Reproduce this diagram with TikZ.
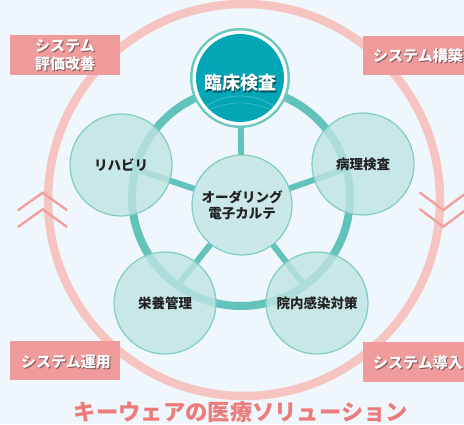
\documentclass[tikz,border=0pt]{standalone}
\usepackage{fontspec}
\setmainfont{Noto Sans CJK JP}
\usetikzlibrary{calc}
\definecolor{bgc}{HTML}{EFF7FD}
\definecolor{pinkring}{HTML}{F7C5C1}
\definecolor{chev}{HTML}{F2A09B}
\definecolor{lblbg}{HTML}{EF9B9B}
\definecolor{titlec}{HTML}{EE7B7B}
\definecolor{ringc}{HTML}{62C3BC}
\definecolor{nfill}{HTML}{BFE4E2}
\definecolor{cfill}{HTML}{C9E8E7}
\definecolor{ndraw}{HTML}{7ECDC7}
\definecolor{topfill}{HTML}{03A6B6}
\definecolor{topedge}{HTML}{6CC7C1}
\definecolor{txt}{HTML}{222222}
\tikzset{
  outernode/.style={circle, minimum size=102pt, inner sep=0pt, fill=nfill, fill opacity=0.8, draw=ndraw, line width=1.2pt, text opacity=1, text=txt, font=\fontsize{13.5}{16}\selectfont\bfseries, align=center},
  lblbox/.style={fill=lblbg, draw=none},
  lbltext/.style={text=white, font=\fontsize{15}{18}\selectfont\bfseries, align=center, inner sep=0pt},
  lblshadow/.style={text=black, text opacity=0.45, font=\fontsize{15}{18}\selectfont\bfseries, align=center, inner sep=0pt},
  chevline/.style={draw=chev, line width=2.4pt, line cap=round, line join=miter},
  spoke/.style={draw=ringc, line width=6pt},
}
\begin{document}
\begin{tikzpicture}[x=1pt,y=-1pt]
\fill[bgc] (0,0) rectangle (464,424);
\useasboundingbox (0,0) rectangle (464,424);
% outer pink circle
\coordinate (oc) at (244,200);
\draw[pinkring, line width=8.5pt] (oc) circle[radius=196pt];
% chevrons
\draw[chevline] (18.3,210) -- (42.7,192.7) -- (66.7,210);
\draw[chevline] (18.3,226.7) -- (42.7,209.3) -- (66.7,226.7);
\draw[chevline] (420,192.7) -- (443.3,210) -- (466.6,192.7);
\draw[chevline] (420,209.3) -- (443.3,226.7) -- (466.6,209.3);
% corner labels
\fill[lblbox] (10,35) rectangle (120,75);
\node[lblshadow] (l1s) at (66,56.2) {\fontsize{15}{18}\selectfont システム\\評価改善};
\node[lbltext] (l1) at (65,55) {\fontsize{15}{18}\selectfont システム\\評価改善};
\fill[lblbox] (363,36) rectangle (470,75);
\node[lblshadow, anchor=west] (l2s) at (374,57.2) {システム構築};
\node[lbltext, anchor=west] (l2) at (373,56) {システム構築};
\fill[lblbox] (10,341) rectangle (120,380);
\node[lblshadow] (l3s) at (67,363.2) {システム運用};
\node[lbltext] (l3) at (66,362) {システム運用};
\fill[lblbox] (363,342) rectangle (470,382);
\node[lblshadow, anchor=west] (l4s) at (374,364.2) {システム導入};
\node[lbltext, anchor=west] (l4) at (373,363) {システム導入};
% teal ring
\coordinate (rc) at (241,197);
\draw[ringc, line width=8pt] (rc) circle[radius=109pt];
% node positions
\coordinate (p0) at (240,78);
\coordinate (p1) at (363,164);
\coordinate (p2) at (317,303);
\coordinate (p3) at (165,303);
\coordinate (p4) at (121,165);
\coordinate (pc) at (242,205);
% spokes
\foreach \i in {0,...,4}{
  \draw[spoke] (pc) -- ($(rc)!109pt!(p\i)$);
}
% outer nodes
\node[outernode] (n1) at (p1) {病理検査};
\node[outernode] (n2) at (p2) {院内感染対策};
\node[outernode] (n3) at (p3) {栄養管理};
\node[outernode] (n4) at (p4) {リハビリ};
\node[outernode, minimum size=100pt, fill=cfill, fill opacity=1] (nc) at (pc) {オーダリング\\電子カルテ};
% top node
\fill[topedge] (p0) circle[radius=50pt];
\fill[white] (p0) circle[radius=47.5pt];
\fill[topfill] (p0) circle[radius=44pt];
\begin{scope}
  \clip (p0) circle[radius=44pt];
  \draw[white, opacity=0.25, line width=0.8pt] ($(p0)+(0,80)$) circle[radius=62pt];
  \draw[white, opacity=0.18, line width=0.8pt] ($(p0)+(0,95)$) circle[radius=70pt];
\end{scope}
\node[text=black, text opacity=0.5, font=\fontsize{18}{20}\selectfont\bfseries, inner sep=0pt] (n0s) at (241,84.3) {臨床検査};
\node[text=white, font=\fontsize{18}{20}\selectfont\bfseries, inner sep=0pt] (n0) at (240,83) {臨床検査};
% title
\node[text=titlec, font=\fontsize{22.3}{24}\selectfont\bfseries, inner sep=0pt] (title) at (241,412) {キーウェアの医療ソリューション};
\end{tikzpicture}
\end{document}
